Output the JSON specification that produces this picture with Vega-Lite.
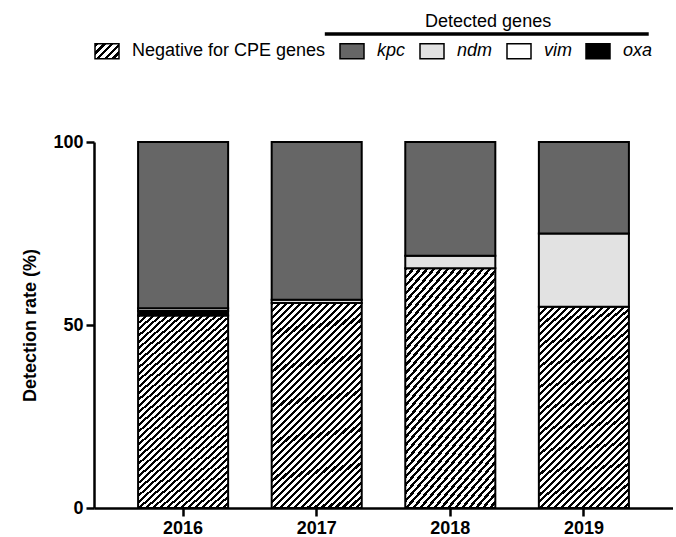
{
  "$schema": "https://vega.github.io/schema/vega-lite/v6.json",
  "width": 579,
  "height": 366,
  "padding": {"left": 21, "top": 12, "right": 0, "bottom": 0},
  "background": "white",
  "params": [
    {"name": "hatchLegend", "value": {"gradient": "linear", "x1": 0, "y1": 0, "x2": 1.1685, "y2": 0.7303, "stops": [
      {"offset":0,"color":"#000"},{"offset":0.09,"color":"#000"},{"offset":0.09,"color":"#fff"},{"offset":0.2,"color":"#fff"},
      {"offset":0.2,"color":"#000"},{"offset":0.29,"color":"#000"},{"offset":0.29,"color":"#fff"},{"offset":0.4,"color":"#fff"},
      {"offset":0.4,"color":"#000"},{"offset":0.49,"color":"#000"},{"offset":0.49,"color":"#fff"},{"offset":0.6,"color":"#fff"},
      {"offset":0.6,"color":"#000"},{"offset":0.69,"color":"#000"},{"offset":0.69,"color":"#fff"},{"offset":0.8,"color":"#fff"},
      {"offset":0.8,"color":"#000"},{"offset":0.89,"color":"#000"},{"offset":0.89,"color":"#fff"},{"offset":1,"color":"#fff"}
    ]}}
  ],
  "config": {
    "view": {"stroke": null},
    "font": "Liberation Sans",
    "axis": {"domainColor": "black", "domainWidth": 2.5, "tickColor": "black", "tickWidth": 2.5, "tickSize": 8, "labelColor": "black", "labelFont": "Liberation Sans", "labelFontSize": 18, "labelFontWeight": "bold", "titleColor": "black", "titleFont": "Liberation Sans", "titleFontSize": 18, "titleFontWeight": "bold", "grid": false}
  },
  "data": {
    "values": [
      {"year": "2016", "gene": "Negative for CPE genes", "pct": 52.6},
      {"year": "2016", "gene": "oxa", "pct": 1.2},
      {"year": "2016", "gene": "vim", "pct": 0.8},
      {"year": "2016", "gene": "kpc", "pct": 45.4},
      {"year": "2017", "gene": "Negative for CPE genes", "pct": 56.0},
      {"year": "2017", "gene": "ndm", "pct": 0.9},
      {"year": "2017", "gene": "kpc", "pct": 43.1},
      {"year": "2018", "gene": "Negative for CPE genes", "pct": 65.5},
      {"year": "2018", "gene": "ndm", "pct": 3.4},
      {"year": "2018", "gene": "kpc", "pct": 31.1},
      {"year": "2019", "gene": "Negative for CPE genes", "pct": 55.0},
      {"year": "2019", "gene": "ndm", "pct": 20.0},
      {"year": "2019", "gene": "kpc", "pct": 25.0}
    ]
  },
  "layer": [
    {
      "transform": [{"calculate": "indexof(['Negative for CPE genes','oxa','vim','ndm','kpc'], datum.gene)", "as": "rank"}],
      "mark": {"type": "bar", "stroke": "black", "strokeWidth": 2},
      "encoding": {
        "x": {"field": "year", "type": "nominal", "scale": {"paddingInner": 0.326, "paddingOuter": 0.33}, "axis": {"title": null, "labelAngle": 0, "labelPadding": 3}},
        "y": {"field": "pct", "type": "quantitative", "stack": "zero", "scale": {"domain": [0, 100], "nice": false}, "axis": {"title": "Detection rate (%)", "values": [0, 50, 100], "labelPadding": 3, "titlePadding": 13}},
        "order": {"field": "rank", "type": "quantitative"},
        "fill": {
          "field": "gene", "type": "nominal",
          "scale": {"domain": ["Negative for CPE genes", "kpc", "ndm", "vim", "oxa"], "range": [{"expr": "hatchLegend"}, "#666666", "#e2e2e2", "#ffffff", "#000000"]},
          "condition": {"test": "datum.gene === 'Negative for CPE genes'", "value": {"gradient": "linear", "x1": 0, "y1": 0, "x2": 0.518, "y2": 1.207, "stops": [
            {"offset":0,"color":"#000"},{"offset":0.01047,"color":"#000"},{"offset":0.01047,"color":"#fff"},{"offset":0.02326,"color":"#fff"},
            {"offset":0.02326,"color":"#000"},{"offset":0.03372,"color":"#000"},{"offset":0.03372,"color":"#fff"},{"offset":0.04651,"color":"#fff"},
            {"offset":0.04651,"color":"#000"},{"offset":0.05698,"color":"#000"},{"offset":0.05698,"color":"#fff"},{"offset":0.06977,"color":"#fff"},
            {"offset":0.06977,"color":"#000"},{"offset":0.08023,"color":"#000"},{"offset":0.08023,"color":"#fff"},{"offset":0.09302,"color":"#fff"},
            {"offset":0.09302,"color":"#000"},{"offset":0.10349,"color":"#000"},{"offset":0.10349,"color":"#fff"},{"offset":0.11628,"color":"#fff"},
            {"offset":0.11628,"color":"#000"},{"offset":0.12674,"color":"#000"},{"offset":0.12674,"color":"#fff"},{"offset":0.13953,"color":"#fff"},
            {"offset":0.13953,"color":"#000"},{"offset":0.15,"color":"#000"},{"offset":0.15,"color":"#fff"},{"offset":0.16279,"color":"#fff"},
            {"offset":0.16279,"color":"#000"},{"offset":0.17326,"color":"#000"},{"offset":0.17326,"color":"#fff"},{"offset":0.18605,"color":"#fff"},
            {"offset":0.18605,"color":"#000"},{"offset":0.19651,"color":"#000"},{"offset":0.19651,"color":"#fff"},{"offset":0.2093,"color":"#fff"},
            {"offset":0.2093,"color":"#000"},{"offset":0.21977,"color":"#000"},{"offset":0.21977,"color":"#fff"},{"offset":0.23256,"color":"#fff"},
            {"offset":0.23256,"color":"#000"},{"offset":0.24302,"color":"#000"},{"offset":0.24302,"color":"#fff"},{"offset":0.25581,"color":"#fff"},
            {"offset":0.25581,"color":"#000"},{"offset":0.26628,"color":"#000"},{"offset":0.26628,"color":"#fff"},{"offset":0.27907,"color":"#fff"},
            {"offset":0.27907,"color":"#000"},{"offset":0.28953,"color":"#000"},{"offset":0.28953,"color":"#fff"},{"offset":0.30233,"color":"#fff"},
            {"offset":0.30233,"color":"#000"},{"offset":0.31279,"color":"#000"},{"offset":0.31279,"color":"#fff"},{"offset":0.32558,"color":"#fff"},
            {"offset":0.32558,"color":"#000"},{"offset":0.33605,"color":"#000"},{"offset":0.33605,"color":"#fff"},{"offset":0.34884,"color":"#fff"},
            {"offset":0.34884,"color":"#000"},{"offset":0.3593,"color":"#000"},{"offset":0.3593,"color":"#fff"},{"offset":0.37209,"color":"#fff"},
            {"offset":0.37209,"color":"#000"},{"offset":0.38256,"color":"#000"},{"offset":0.38256,"color":"#fff"},{"offset":0.39535,"color":"#fff"},
            {"offset":0.39535,"color":"#000"},{"offset":0.40581,"color":"#000"},{"offset":0.40581,"color":"#fff"},{"offset":0.4186,"color":"#fff"},
            {"offset":0.4186,"color":"#000"},{"offset":0.42907,"color":"#000"},{"offset":0.42907,"color":"#fff"},{"offset":0.44186,"color":"#fff"},
            {"offset":0.44186,"color":"#000"},{"offset":0.45233,"color":"#000"},{"offset":0.45233,"color":"#fff"},{"offset":0.46512,"color":"#fff"},
            {"offset":0.46512,"color":"#000"},{"offset":0.47558,"color":"#000"},{"offset":0.47558,"color":"#fff"},{"offset":0.48837,"color":"#fff"},
            {"offset":0.48837,"color":"#000"},{"offset":0.49884,"color":"#000"},{"offset":0.49884,"color":"#fff"},{"offset":0.51163,"color":"#fff"},
            {"offset":0.51163,"color":"#000"},{"offset":0.52209,"color":"#000"},{"offset":0.52209,"color":"#fff"},{"offset":0.53488,"color":"#fff"},
            {"offset":0.53488,"color":"#000"},{"offset":0.54535,"color":"#000"},{"offset":0.54535,"color":"#fff"},{"offset":0.55814,"color":"#fff"},
            {"offset":0.55814,"color":"#000"},{"offset":0.5686,"color":"#000"},{"offset":0.5686,"color":"#fff"},{"offset":0.5814,"color":"#fff"},
            {"offset":0.5814,"color":"#000"},{"offset":0.59186,"color":"#000"},{"offset":0.59186,"color":"#fff"},{"offset":0.60465,"color":"#fff"},
            {"offset":0.60465,"color":"#000"},{"offset":0.61512,"color":"#000"},{"offset":0.61512,"color":"#fff"},{"offset":0.62791,"color":"#fff"},
            {"offset":0.62791,"color":"#000"},{"offset":0.63837,"color":"#000"},{"offset":0.63837,"color":"#fff"},{"offset":0.65116,"color":"#fff"},
            {"offset":0.65116,"color":"#000"},{"offset":0.66163,"color":"#000"},{"offset":0.66163,"color":"#fff"},{"offset":0.67442,"color":"#fff"},
            {"offset":0.67442,"color":"#000"},{"offset":0.68488,"color":"#000"},{"offset":0.68488,"color":"#fff"},{"offset":0.69767,"color":"#fff"},
            {"offset":0.69767,"color":"#000"},{"offset":0.70814,"color":"#000"},{"offset":0.70814,"color":"#fff"},{"offset":0.72093,"color":"#fff"},
            {"offset":0.72093,"color":"#000"},{"offset":0.7314,"color":"#000"},{"offset":0.7314,"color":"#fff"},{"offset":0.74419,"color":"#fff"},
            {"offset":0.74419,"color":"#000"},{"offset":0.75465,"color":"#000"},{"offset":0.75465,"color":"#fff"},{"offset":0.76744,"color":"#fff"},
            {"offset":0.76744,"color":"#000"},{"offset":0.77791,"color":"#000"},{"offset":0.77791,"color":"#fff"},{"offset":0.7907,"color":"#fff"},
            {"offset":0.7907,"color":"#000"},{"offset":0.80116,"color":"#000"},{"offset":0.80116,"color":"#fff"},{"offset":0.81395,"color":"#fff"},
            {"offset":0.81395,"color":"#000"},{"offset":0.82442,"color":"#000"},{"offset":0.82442,"color":"#fff"},{"offset":0.83721,"color":"#fff"},
            {"offset":0.83721,"color":"#000"},{"offset":0.84767,"color":"#000"},{"offset":0.84767,"color":"#fff"},{"offset":0.86047,"color":"#fff"},
            {"offset":0.86047,"color":"#000"},{"offset":0.87093,"color":"#000"},{"offset":0.87093,"color":"#fff"},{"offset":0.88372,"color":"#fff"},
            {"offset":0.88372,"color":"#000"},{"offset":0.89419,"color":"#000"},{"offset":0.89419,"color":"#fff"},{"offset":0.90698,"color":"#fff"},
            {"offset":0.90698,"color":"#000"},{"offset":0.91744,"color":"#000"},{"offset":0.91744,"color":"#fff"},{"offset":0.93023,"color":"#fff"},
            {"offset":0.93023,"color":"#000"},{"offset":0.9407,"color":"#000"},{"offset":0.9407,"color":"#fff"},{"offset":0.95349,"color":"#fff"},
            {"offset":0.95349,"color":"#000"},{"offset":0.96395,"color":"#000"},{"offset":0.96395,"color":"#fff"},{"offset":0.97674,"color":"#fff"},
            {"offset":0.97674,"color":"#000"},{"offset":0.98721,"color":"#000"},{"offset":0.98721,"color":"#fff"},{"offset":1,"color":"#fff"}
          ]}},
          "legend": {
            "orient": "top", "direction": "horizontal", "title": null, "offset": 80,
            "symbolType": "M-1,-0.625H1V0.625H-1Z", "symbolSize": 576,
            "symbolStrokeColor": "black", "symbolStrokeWidth": 1.5,
            "labelFont": "Liberation Sans", "labelFontSize": 18, "labelColor": "black",
            "labelOffset": 12, "columnPadding": 11, "labelLimit": 300,
            "encode": {
              "labels": {"update": {"fontStyle": {"signal": "datum.value === 'Negative for CPE genes' ? 'normal' : 'italic'"}}},
              "symbols": {"update": {"stroke": {"value": "black"}}}
            }
          }
        }
      }
    },
    {
      "data": {"values": [{"label": "Detected genes"}]},
      "mark": {"type": "text", "font": "Liberation Sans", "fontSize": 18, "color": "black", "align": "center", "baseline": "middle"},
      "encoding": {
        "x": {"datum": "2018", "type": "nominal", "bandPosition": 0.92},
        "y": {"datum": 132.8, "type": "quantitative"},
        "text": {"field": "label", "type": "nominal"}
      }
    },
    {
      "data": {"values": [{"label": "Detected genes"}]},
      "mark": {"type": "rule", "color": "black", "strokeWidth": 3.5},
      "encoding": {
        "x": {"datum": "2017", "type": "nominal", "bandPosition": 0.59},
        "x2": {"datum": "2019", "bandPosition": 1.22},
        "y": {"datum": 129.5, "type": "quantitative"}
      }
    }
  ]
}
